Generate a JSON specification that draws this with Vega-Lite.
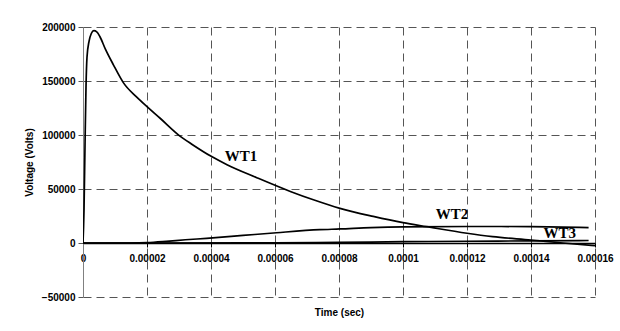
{
  "$schema": "https://vega.github.io/schema/vega-lite/v6.json",
  "width": 512,
  "height": 270,
  "autosize": {"type": "none"},
  "padding": {"left": 83, "top": 27, "right": 25, "bottom": 34},
  "background": "white",
  "config": {"view": {"stroke": null}},
  "datasets": {
    "curves": [
      {"series": "WT1", "t": 0, "v": 0},
      {"series": "WT1", "t": 3.1e-7, "v": 30000},
      {"series": "WT1", "t": 6.25e-7, "v": 90000},
      {"series": "WT1", "t": 9.4e-7, "v": 145000},
      {"series": "WT1", "t": 1.25e-6, "v": 172000},
      {"series": "WT1", "t": 1.9e-6, "v": 187000},
      {"series": "WT1", "t": 2.6e-6, "v": 194000},
      {"series": "WT1", "t": 3.4e-6, "v": 196600},
      {"series": "WT1", "t": 4.3e-6, "v": 195500},
      {"series": "WT1", "t": 5.3e-6, "v": 191000},
      {"series": "WT1", "t": 7e-6, "v": 179500},
      {"series": "WT1", "t": 9.5e-6, "v": 165000},
      {"series": "WT1", "t": 1.26e-5, "v": 148500},
      {"series": "WT1", "t": 1.68e-5, "v": 135000},
      {"series": "WT1", "t": 2e-5, "v": 126200},
      {"series": "WT1", "t": 2.41e-5, "v": 115500},
      {"series": "WT1", "t": 3.03e-5, "v": 99000},
      {"series": "WT1", "t": 3.4e-5, "v": 91500},
      {"series": "WT1", "t": 4.02e-5, "v": 80000},
      {"series": "WT1", "t": 4.5e-5, "v": 72500},
      {"series": "WT1", "t": 5.43e-5, "v": 60500},
      {"series": "WT1", "t": 6.5e-5, "v": 47500},
      {"series": "WT1", "t": 7.2e-5, "v": 40000},
      {"series": "WT1", "t": 8.03e-5, "v": 32100},
      {"series": "WT1", "t": 9.07e-5, "v": 24600},
      {"series": "WT1", "t": 1e-4, "v": 18800},
      {"series": "WT1", "t": 1.074e-4, "v": 15100},
      {"series": "WT1", "t": 1.2e-4, "v": 9000},
      {"series": "WT1", "t": 1.28e-4, "v": 5900},
      {"series": "WT1", "t": 1.4e-4, "v": 2800},
      {"series": "WT1", "t": 1.5e-4, "v": 0},
      {"series": "WT1", "t": 1.6e-4, "v": -2500},
      {"series": "WT2", "t": 0, "v": 0},
      {"series": "WT2", "t": 1.5e-5, "v": 0},
      {"series": "WT2", "t": 2e-5, "v": 300},
      {"series": "WT2", "t": 2.6e-5, "v": 1500},
      {"series": "WT2", "t": 3.2e-5, "v": 3000},
      {"series": "WT2", "t": 3.86e-5, "v": 4300},
      {"series": "WT2", "t": 5e-5, "v": 7000},
      {"series": "WT2", "t": 6.05e-5, "v": 9500},
      {"series": "WT2", "t": 7.4e-5, "v": 12300},
      {"series": "WT2", "t": 8.03e-5, "v": 13000},
      {"series": "WT2", "t": 9e-5, "v": 14300},
      {"series": "WT2", "t": 1e-4, "v": 15000},
      {"series": "WT2", "t": 1.2e-4, "v": 15300},
      {"series": "WT2", "t": 1.4e-4, "v": 15200},
      {"series": "WT2", "t": 1.58e-4, "v": 14300},
      {"series": "WT3", "t": 0, "v": 0},
      {"series": "WT3", "t": 6e-5, "v": 200},
      {"series": "WT3", "t": 8e-5, "v": 600},
      {"series": "WT3", "t": 1e-4, "v": 1200},
      {"series": "WT3", "t": 1.2e-4, "v": 1600},
      {"series": "WT3", "t": 1.4e-4, "v": 2000},
      {"series": "WT3", "t": 1.58e-4, "v": 2300}
    ],
    "labels": [
      {"label": "WT1", "t": 4.94e-5, "v": 80500},
      {"label": "WT2", "t": 1.153e-4, "v": 26400},
      {"label": "WT3", "t": 1.49e-4, "v": 8800}
    ]
  },
  "layer": [
    {
      "data": {"name": "curves"},
      "mark": {"type": "line", "color": "black", "strokeWidth": 1.7, "clip": true, "interpolate": "monotone"},
      "encoding": {
        "x": {
          "field": "t", "type": "quantitative",
          "scale": {"domain": [0, 0.00016], "nice": false, "zero": false},
          "axis": {
            "title": "Time (sec)",
            "titleFont": "Liberation Sans", "titleFontSize": 10, "titleFontWeight": "bold",
            "titleColor": "black",
            "titleY": 69, "titleBaseline": "middle",
            "values": [0, 0.00002, 0.00004, 0.00006, 0.00008, 0.0001, 0.00012, 0.00014, 0.00016],
            "format": ".5~f",
            "labelFont": "Liberation Sans", "labelFontSize": 10, "labelFontWeight": "bold",
            "labelColor": "black", "labelPadding": 6, "labelFlush": false, "labelOverlap": false,
            "offset": -54,
            "domainColor": "black", "domainWidth": 1.5,
            "tickColor": "black", "tickSize": 4,
            "grid": true, "gridColor": "#555555", "gridDash": [8, 5], "gridWidth": 1
          }
        },
        "y": {
          "field": "v", "type": "quantitative",
          "scale": {"domain": [-50000, 200000], "nice": false},
          "axis": {
            "title": "Voltage (Volts)",
            "titleFont": "Liberation Sans", "titleFontSize": 10, "titleFontWeight": "bold",
            "titleColor": "black",
            "titleX": -54, "titleY": 135, "titleAngle": 270, "titleAlign": "center", "titleBaseline": "middle",
            "values": [-50000, 0, 50000, 100000, 150000, 200000],
            "format": "d",
            "labelFont": "Liberation Sans", "labelFontSize": 10, "labelFontWeight": "bold",
            "labelColor": "black", "labelPadding": 3,
            "domainColor": "#808080", "domainWidth": 1,
            "tickColor": "#555555", "tickSize": 5,
            "grid": true, "gridColor": "#555555", "gridDash": [8, 5], "gridWidth": 1
          }
        },
        "detail": {"field": "series"},
        "order": {"field": "t", "type": "quantitative"}
      }
    },
    {
      "data": {"name": "labels"},
      "mark": {"type": "text", "font": "Liberation Serif", "fontWeight": "bold", "fontSize": 15, "color": "black", "align": "center", "baseline": "middle"},
      "encoding": {
        "x": {"field": "t", "type": "quantitative"},
        "y": {"field": "v", "type": "quantitative"},
        "text": {"field": "label"}
      }
    }
  ]
}
